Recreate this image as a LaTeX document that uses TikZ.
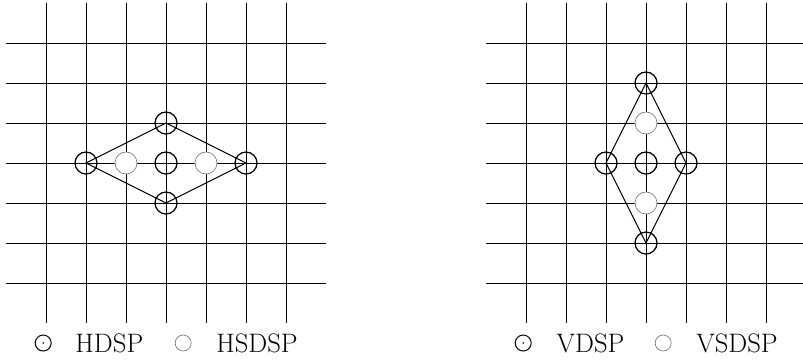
\documentclass[tikz,border=0pt]{standalone}
\begin{document}
\begin{tikzpicture}[font=\fontsize{19}{22}\selectfont,gridline/.style={line width=0.7pt},dsp/.style={circle,draw,line width=0.9pt,minimum size=0.55cm,inner sep=0pt},sdsp/.style={circle,draw=black!55,line width=0.45pt,fill=white,minimum size=0.55cm,inner sep=0pt},legdsp/.style={circle,draw,line width=0.7pt,minimum size=0.4cm,inner sep=0pt},legsdsp/.style={circle,draw=black!55,line width=0.45pt,minimum size=0.4cm,inner sep=0pt},legtext/.style={anchor=west,inner sep=0pt}]
\useasboundingbox (-4.15,-4.95) rectangle (15.925,4.075);
% grids
\foreach \ox in {0,12} {
  \foreach \k in {-3,...,3} {
    \draw[gridline] (\ox+\k,-4) -- (\ox+\k,4);
    \draw[gridline] (\ox-4,\k) -- (\ox+4,\k);
  }
}
% horizontal diamond
\node[dsp] (ht) at (0,1) {};
\node[dsp] (hl) at (-2,0) {};
\node[dsp] (hc) at (0,0) {};
\node[dsp] (hr) at (2,0) {};
\node[dsp] (hb) at (0,-1) {};
\node[sdsp] (hsl) at (-1,0) {};
\node[sdsp] (hsr) at (1,0) {};
\draw[line width=0.7pt] (hl.center) -- (ht.center) -- (hr.center) -- (hb.center) -- cycle;
% vertical diamond
\node[dsp] (vt) at (12,2) {};
\node[dsp] (vl) at (11,0) {};
\node[dsp] (vc) at (12,0) {};
\node[dsp] (vr) at (13,0) {};
\node[dsp] (vb) at (12,-2) {};
\node[sdsp] (vst) at (12,1) {};
\node[sdsp] (vsb) at (12,-1) {};
\draw[line width=0.7pt] (vt.center) -- (vr.center) -- (vb.center) -- (vl.center) -- cycle;
% legends
\node[legdsp] (lh) at (-3.07,-4.5) {};
\fill (lh.center) circle (0.022);
\node[legtext] (lhtxt) at (-2.27,-4.5) {HDSP};
\node[legsdsp] (lhs) at (0.43,-4.5) {};
\node[legtext] (lhstxt) at (1.25,-4.5) {HSDSP};
\node[legdsp] (lv) at (8.93,-4.5) {};
\fill (lv.center) circle (0.022);
\node[legtext] (lvtxt) at (9.76,-4.5) {VDSP};
\node[legsdsp] (lvs) at (12.43,-4.5) {};
\node[legtext] (lvstxt) at (13.25,-4.5) {VSDSP};
\end{tikzpicture}
\end{document}
